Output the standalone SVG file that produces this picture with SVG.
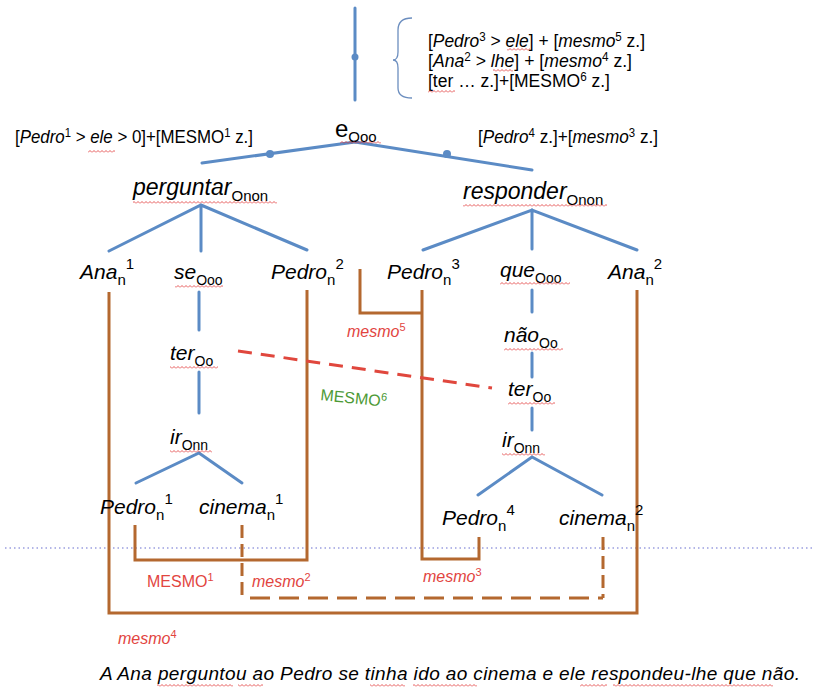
<svg xmlns="http://www.w3.org/2000/svg" width="813" height="688" viewBox="0 0 813 688">
<style>
text{font-family:"Liberation Sans",Arial,sans-serif;fill:#000}
.w{font-style:italic;font-size:21px}
.big{font-style:italic;font-size:23px}
.sb{font-style:normal;font-size:14px}
.sn{font-style:normal;font-size:15px}
.note{font-size:18px}
.i{font-style:italic}
.r{fill:#e2453f;font-size:16px}
.g{fill:#4d9a36;font-size:16px}
.blue{stroke:#5b8bc5;stroke-width:3;fill:none;stroke-linecap:round}
.brown{stroke:#b4682f;stroke-width:3;fill:none}
.dash{stroke-dasharray:20 9}
.vdash{stroke-dasharray:13 6}
.wave{fill:url(#wv)}
</style>
<defs>
<pattern id="wv" width="4" height="3" patternUnits="userSpaceOnUse"><path d="M0,2.5 L2,0.5 L4,2.5" stroke="#e03030" stroke-width="0.8" fill="none"/></pattern>
</defs>
<rect width="813" height="688" fill="#fff"/>
<line x1="5" y1="548" x2="813" y2="548" stroke="#9a9ee0" stroke-width="1.5" stroke-dasharray="1.5 3"/>

<g id="connectors">
<line class="blue" x1="355" y1="8" x2="355" y2="100"/>
<circle cx="355" cy="57" r="3.5" fill="#5b8bc5"/>
<path d="M412,18 Q398,18 398,30 L398,52 Q398,60 393,60 Q398,60 398,68 L398,88 Q398,98 412,98" stroke="#6c8ebf" stroke-width="1.3" fill="none"/>
<line class="blue" x1="355" y1="142" x2="202" y2="163"/>
<line class="blue" x1="355" y1="142" x2="532" y2="170"/>
<circle cx="270" cy="154" r="4" fill="#5b8bc5"/>
<circle cx="447" cy="154" r="4" fill="#5b8bc5"/>
<path class="blue" d="M109,251 L201,205 L307,250 M201,205 L201,251"/>
<path class="blue" d="M423,250 L532,210 L637,250 M532,210 L532,249"/>
<line class="blue" x1="199" y1="292" x2="199" y2="330"/>
<line class="blue" x1="199" y1="372" x2="199" y2="413"/>
<path class="blue" d="M136,483 L199,453 L242,483"/>
<line class="blue" x1="532" y1="290" x2="532" y2="312"/>
<line class="blue" x1="532" y1="353" x2="532" y2="377"/>
<line class="blue" x1="532" y1="408" x2="532" y2="430"/>
<path class="blue" d="M478,495 L532,457 L602,495"/>
<path class="brown" d="M109,292 L109,613 L637,613 L637,290"/>
<path class="brown" d="M307,290 L307,560 L135,560 L135,525"/>
<path class="brown" d="M360,269 L360,313 L422,313"/>
<path class="brown" d="M422,290 L422,559 L479,559 L479,537"/>
<line class="brown vdash" x1="242" y1="525" x2="242" y2="596"/>
<line class="brown dash" x1="250" y1="598" x2="603" y2="598"/>
<line class="brown vdash" x1="603" y1="537" x2="603" y2="598"/>
<line x1="238" y1="351" x2="492" y2="388" stroke="#e0473d" stroke-width="3" stroke-dasharray="14 9"/>
</g>

<g id="notes">
<text class="note" x="428" y="47" textLength="217" lengthAdjust="spacingAndGlyphs">[<tspan class="i">Pedro</tspan><tspan font-size="12" dy="-6">3</tspan><tspan dy="6"> &gt; </tspan><tspan class="i">ele</tspan>] + [<tspan class="i">mesmo</tspan><tspan font-size="12" dy="-6">5</tspan><tspan dy="6"> z.]</tspan></text>
<text class="note" x="428" y="67" textLength="204" lengthAdjust="spacingAndGlyphs">[<tspan class="i">Ana</tspan><tspan font-size="12" dy="-6">2</tspan><tspan dy="6"> &gt; </tspan><tspan class="i">lhe</tspan>] + [<tspan class="i">mesmo</tspan><tspan font-size="12" dy="-6">4</tspan><tspan dy="6"> z.]</tspan></text>
<text class="note" x="428" y="87" textLength="182" lengthAdjust="spacingAndGlyphs">[ter … z.]+[MESMO<tspan font-size="12" dy="-6">6</tspan><tspan dy="6"> z.]</tspan></text>
<text class="note" x="15" y="143" textLength="238" lengthAdjust="spacingAndGlyphs">[<tspan class="i">Pedro</tspan><tspan font-size="12" dy="-6">1</tspan><tspan dy="6"> &gt; </tspan><tspan class="i">ele</tspan> &gt; 0]+[MESMO<tspan font-size="12" dy="-6">1</tspan><tspan dy="6"> z.]</tspan></text>
<text class="note" x="478" y="143" textLength="180" lengthAdjust="spacingAndGlyphs">[<tspan class="i">Pedro</tspan><tspan font-size="12" dy="-6">4</tspan><tspan dy="6"> z.]+[</tspan><tspan class="i">mesmo</tspan><tspan font-size="12" dy="-6">3</tspan><tspan dy="6"> z.]</tspan></text>
</g>

<g id="node-e"><text x="335" y="137" font-size="24">e<tspan class="sn" dy="5">Ooo</tspan></text></g>
<g id="node-perguntar"><text class="big" x="133" y="195">perguntar<tspan class="sn" dy="6">Onon</tspan></text></g>
<g id="node-responder"><text class="big" x="463" y="199">responder<tspan class="sn" dy="6">Onon</tspan></text></g>
<g id="node-ana1"><text class="w" x="80" y="279">Ana<tspan class="sn" dy="6">n</tspan><tspan class="sn" dy="-16">1</tspan></text></g>
<g id="node-se"><text class="w" x="174" y="279">se<tspan class="sb" dy="6">Ooo</tspan></text></g>
<g id="node-pedro2"><text class="w" x="271" y="279">Pedro<tspan class="sn" dy="6">n</tspan><tspan class="sn" dy="-16">2</tspan></text></g>
<g id="node-pedro3"><text class="w" x="387" y="279">Pedro<tspan class="sn" dy="6">n</tspan><tspan class="sn" dy="-16">3</tspan></text></g>
<g id="node-que"><text class="w" x="500" y="277">que<tspan class="sb" dy="6">Ooo</tspan></text></g>
<g id="node-ana2"><text class="w" x="608" y="279">Ana<tspan class="sn" dy="6">n</tspan><tspan class="sn" dy="-16">2</tspan></text></g>
<g id="node-ter1"><text class="w" x="170" y="360">ter<tspan class="sb" dy="6">Oo</tspan></text></g>
<g id="node-ir1"><text class="w" x="170" y="444">ir<tspan class="sb" dy="6">Onn</tspan></text></g>
<g id="node-pedro1"><text class="w" x="100" y="514">Pedro<tspan class="sn" dy="6">n</tspan><tspan class="sn" dy="-16">1</tspan></text></g>
<g id="node-cinema1"><text class="w" x="199" y="514">cinema<tspan class="sn" dy="6">n</tspan><tspan class="sn" dy="-16">1</tspan></text></g>
<g id="node-nao"><text class="w" x="504" y="342">não<tspan class="sb" dy="6">Oo</tspan></text></g>
<g id="node-ter2"><text class="w" x="508" y="396">ter<tspan class="sb" dy="6">Oo</tspan></text></g>
<g id="node-ir2"><text class="w" x="502" y="447">ir<tspan class="sb" dy="6">Onn</tspan></text></g>
<g id="node-pedro4"><text class="w" x="442" y="525">Pedro<tspan class="sn" dy="6">n</tspan><tspan class="sn" dy="-16">4</tspan></text></g>
<g id="node-cinema2"><text class="w" x="559" y="525">cinema<tspan class="sn" dy="6">n</tspan><tspan class="sn" dy="-16">2</tspan></text></g>

<g id="labels">
<text class="r i" x="347" y="337">mesmo<tspan font-size="11" font-style="normal" dy="-6">5</tspan></text>
<text class="g" x="320" y="400" transform="rotate(6 320 400)">MESMO<tspan font-size="11" dy="-6">6</tspan></text>
<text class="r" x="147" y="587">MESMO<tspan font-size="11" dy="-6">1</tspan></text>
<text class="r i" x="252" y="587">mesmo<tspan font-size="11" font-style="normal" dy="-6">2</tspan></text>
<text class="r i" x="423" y="582">mesmo<tspan font-size="11" font-style="normal" dy="-6">3</tspan></text>
<text class="r i" x="118" y="644">mesmo<tspan font-size="11" font-style="normal" dy="-6">4</tspan></text>
<text x="100" y="680" font-size="19" font-style="italic" textLength="700" lengthAdjust="spacing">A Ana perguntou ao Pedro se tinha ido ao cinema e ele respondeu-lhe que não.</text>
</g>

<g id="spelling-marks">
<rect class="wave" x="507" y="48" width="23" height="3"/>
<rect class="wave" x="493" y="69" width="20" height="3"/>
<rect class="wave" x="428" y="90" width="27" height="3"/>
<rect class="wave" x="88" y="150" width="27" height="3"/>
<rect class="wave" x="340" y="141" width="41" height="3"/>
<rect class="wave" x="133" y="201" width="144" height="3"/>
<rect class="wave" x="463" y="204" width="144" height="3"/>
<rect class="wave" x="175" y="285" width="48" height="3"/>
<rect class="wave" x="500" y="282" width="70" height="3"/>
<rect class="wave" x="170" y="366" width="48" height="3"/>
<rect class="wave" x="170" y="450" width="42" height="3"/>
<rect class="wave" x="504" y="348" width="59" height="3"/>
<rect class="wave" x="508" y="402" width="47" height="3"/>
<rect class="wave" x="502" y="453" width="43" height="3"/>
<rect class="wave" x="157" y="684" width="76" height="3"/>
<rect class="wave" x="238" y="684" width="25" height="3"/>
<rect class="wave" x="370" y="684" width="35" height="3"/>
<rect class="wave" x="413" y="684" width="64" height="3"/>
<rect class="wave" x="580" y="684" width="27" height="3"/>
<rect class="wave" x="613" y="684" width="160" height="3"/>
</g>
</svg>
